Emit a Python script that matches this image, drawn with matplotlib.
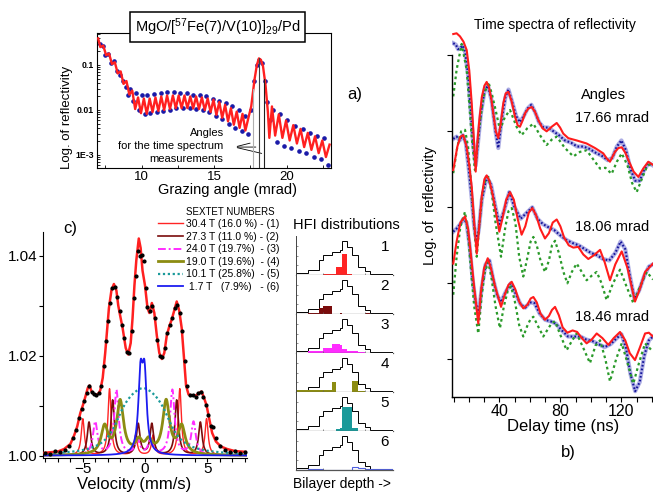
import numpy as np
import matplotlib
matplotlib.use("Agg")
import matplotlib.pyplot as plt
from matplotlib.patches import Rectangle

plt.rcParams['font.family'] = ['Liberation Sans', 'DejaVu Sans']
plt.rcParams['mathtext.fontset'] = 'custom'
plt.rcParams['mathtext.rm'] = 'Liberation Sans'
plt.rcParams['mathtext.it'] = 'Liberation Sans:italic'
plt.rcParams['mathtext.bf'] = 'Liberation Sans:bold'

# ---------------- a) X-ray reflectivity vs grazing angle ----------------
angle_fit = [7.00, 7.15, 7.35, 7.55, 7.75, 7.95, 8.15, 8.35, 8.55, 8.75, 8.95, 9.15, 9.35, 9.55,
             9.75, 9.95, 10.15, 10.35, 10.55, 10.75, 10.95, 11.15, 11.35, 11.55, 11.75, 11.95,
             12.15, 12.35, 12.55, 12.75, 12.95, 13.15, 13.35, 13.55, 13.75, 13.95, 14.15, 14.35,
             14.55, 14.75, 14.95, 15.15, 15.35, 15.55, 15.75, 15.95, 16.15, 16.35, 16.55, 16.75,
             16.95, 17.15, 17.38, 17.55, 17.78, 17.94, 18.08, 18.22, 18.36, 18.54, 18.70, 18.80,
             18.98, 19.20, 19.45, 19.70, 19.95, 20.20, 20.45, 20.70, 20.95, 21.20, 21.45, 21.70,
             21.95, 22.20, 22.45, 22.70, 22.95]
refl_fit = [0.39, 0.25, 0.27, 0.165, 0.18, 0.105, 0.115, 0.065, 0.072, 0.038, 0.044, 0.022, 0.027, 0.0105,
            0.019, 0.0085, 0.018, 0.0082, 0.018, 0.0090, 0.019, 0.0095, 0.020, 0.0100, 0.021, 0.0105,
            0.021, 0.0110, 0.021, 0.0110, 0.021, 0.0110, 0.020, 0.0108, 0.020, 0.0105, 0.019, 0.0100,
            0.018, 0.0090, 0.017, 0.0078, 0.015, 0.0067, 0.013, 0.0056, 0.011, 0.0047, 0.0092, 0.0040,
            0.0082, 0.0035, 0.0072, 0.012, 0.048, 0.10, 0.14, 0.13, 0.095, 0.035, 0.009, 0.0024,
            0.012, 0.0027, 0.0080, 0.0024, 0.0058, 0.0021, 0.0046, 0.0018, 0.0038, 0.0015, 0.0031, 0.0013,
            0.0026, 0.0011, 0.0021, 0.0009, 0.0017]

angle_data = [7.1, 7.3, 7.5, 7.7, 7.9, 8.1, 8.3, 8.5, 8.7, 8.9, 9.05, 9.2, 9.4, 9.6, 9.8, 10.0, 10.2,
              10.4, 10.6, 10.85, 11.05, 11.3, 11.5, 11.75, 11.95, 12.2, 12.4, 12.65, 12.85, 13.1, 13.3,
              13.55, 13.75, 14.0, 14.2, 14.45, 14.65, 14.9, 15.1, 15.35, 15.55, 15.8, 16.0, 16.25, 16.45,
              16.7, 16.9, 17.1, 17.3, 17.55, 17.75, 17.95, 18.1, 18.3, 18.5, 18.65, 18.85, 19.05, 19.3,
              19.55, 19.8, 20.05, 20.3, 20.6, 20.85, 21.1, 21.35, 21.6, 21.85, 22.1, 22.35, 22.6, 22.85]
refl_data = [0.30, 0.26, 0.17, 0.18, 0.11, 0.12, 0.075, 0.06, 0.045, 0.033, 0.022, 0.030, 0.016, 0.024,
             0.010, 0.021, 0.008, 0.022, 0.0085, 0.023, 0.009, 0.024, 0.0095, 0.025, 0.010, 0.025, 0.011,
             0.024, 0.011, 0.024, 0.011, 0.022, 0.0105, 0.022, 0.010, 0.020, 0.009, 0.018, 0.0075, 0.016,
             0.0062, 0.014, 0.0050, 0.012, 0.0040, 0.010, 0.0035, 0.0075, 0.0030, 0.010, 0.045, 0.10,
             0.13, 0.11, 0.045, 0.015, 0.006, 0.010, 0.0019, 0.0080, 0.0016, 0.0060, 0.0014, 0.0045,
             0.0012, 0.0038, 0.0011, 0.0031, 0.0009, 0.0027, 0.0008, 0.0024, 0.0006]

meas_angles = [17.66, 18.06, 18.46]
meas_tops = [0.03, 0.14, 0.05]
meas_colors = ['#b0b0b0', '#404040', '#202020']

# ---------------- b) time spectra (log units, offset per angle) ----------------
t_top_fit = [9.8, 12, 14.2, 16.5, 18.6, 20.3, 21.9, 23.3, 24.5, 25.6, 26.9, 28.5, 30.2, 31.7, 33.2, 34.8,
             36.0, 37.7, 39.3, 40.9, 42.6, 44.2, 45.9, 48, 50.3, 52, 53.5, 55.2, 56.9, 59, 61.2, 63.3,
             65.5, 68.3, 71.0, 74.3, 77.6, 79.8, 81.9, 85.2, 90.7, 97.2, 102.7, 108.1, 110.5, 112.5,
             115.8, 118, 120.2, 122.5, 124.6, 128, 131.1, 134.3, 137.6, 140.6]
r_top_fit = [4.28, 4.29, 4.25, 4.18, 4.07, 3.8, 3.37, 2.9, 2.47, 2.85, 3.15, 3.45, 3.6, 3.65, 3.58, 3.42,
             3.24, 3.0, 2.91, 3.1, 3.37, 3.5, 3.52, 3.4, 3.19, 3.08, 3.06, 3.14, 3.24, 3.3, 3.32, 3.26,
             3.15, 3.04, 3.0, 3.06, 3.11, 3.05, 2.97, 2.91, 2.88, 2.84, 2.78, 2.71, 2.64, 2.6,
             2.73, 2.78, 2.79, 2.72, 2.62, 2.47, 2.4, 2.51, 2.6, 2.56]
t_top_mag = [9.8, 12, 15.3, 18.6, 21.9, 24.0, 26.9, 29.5, 32.8, 35, 37.1, 40.4, 43.7, 47.0, 51.3, 54.6,
             58.3, 62.3, 66.6, 71.0, 74.3, 77.6, 83.0, 88.5, 92.9, 97.2, 102.7, 106, 109.5, 113.6, 117,
             120.2, 124, 127, 130, 133.5, 136.6, 140.6]
r_top_mag = [3.46, 3.81, 4.15, 3.81, 2.93, 2.49, 3.06, 3.45, 3.65, 3.5, 3.32, 3.02, 3.19, 3.28, 3.06, 2.95,
             3.04, 3.1, 2.95, 2.82, 2.89, 2.93, 2.78, 2.67, 2.73, 2.75, 2.6, 2.51, 2.52, 2.44, 2.6,
             2.71, 2.55, 2.32, 2.2, 2.38, 2.53, 2.6]
t_top_exp = [9.8, 11.5, 13, 14.5, 16, 17.5, 19.5, 21.5, 23, 24.5, 26, 28, 30.5, 32.5, 35, 37.5, 39.3, 41.5,
             44, 46, 48.5, 51, 53.5, 56, 58.5, 61, 63.5, 66, 69, 72, 75.5, 79, 83, 87, 91, 95, 99, 103,
             107, 111, 114, 117, 120, 123, 126, 129, 132, 135, 138, 140.7]
r_top_exp = [4.16, 4.14, 4.08, 4.1, 4.13, 4.05, 3.75, 3.2, 2.8, 2.55, 2.85, 3.25, 3.55, 3.6, 3.4, 3.0, 2.78,
             3.15, 3.45, 3.55, 3.38, 3.2, 3.12, 3.2, 3.3, 3.35, 3.25, 3.12, 3.05, 3.05, 3.0, 2.95, 2.88,
             2.85, 2.8, 2.8, 2.77, 2.72, 2.68, 2.62, 2.65, 2.8, 2.88, 2.75, 2.5, 2.35, 2.35, 2.5, 2.58, 2.55]

t_mid_fit = [9.8, 12.5, 14.5, 16.4, 18.5, 20.3, 21.9, 23.5, 25.2, 26.8, 28.5, 30.2, 31.7, 33.5, 35.5, 37.2,
             40.0, 42, 44.5, 47.0, 49.5, 52, 54.6, 57, 59.3, 61.6, 64, 66.8, 69.9, 72.5, 75, 77.6, 80,
             82.5, 85.5, 88.5, 91.7, 95, 98.3, 102, 106.0, 109, 112.5, 116, 120.2, 124, 128.9, 132,
             135.5, 140.7]
r_mid_fit = [2.49, 2.8, 2.93, 2.95, 2.8, 2.55, 2.27, 1.8, 1.39, 1.75, 2.15, 2.37, 2.42, 2.35, 2.18, 2.0,
             1.68, 1.85, 2.1, 2.2, 2.1, 1.85, 1.64, 1.75, 1.93, 1.99, 1.9, 1.72, 1.59, 1.66, 1.8, 1.84, 1.75,
             1.6, 1.5, 1.47, 1.48, 1.38, 1.32, 1.37, 1.44, 1.28, 1.04, 1.25, 1.42, 1.2, 0.76, 0.92,
             1.15, 1.26]
t_mid_mag = [9.8, 12.5, 15, 17.5, 19.5, 21.5, 23.5, 25.2, 27, 29, 31, 32.8, 35, 37.5, 41.1, 44, 46, 48.1,
             50.5, 53, 55.7, 58.5, 60.5, 62.3, 64.5, 67, 69.9, 72.5, 74.5, 76.5, 79, 82, 84.6, 87.5, 90.7,
             94, 97.2, 100.5, 103.8, 107, 110.3, 114.5, 119.1, 123.5, 127.8, 132, 136.6, 140.7]
r_mid_mag = [2.45, 2.8, 3.0, 3.02, 2.8, 2.3, 1.75, 1.35, 1.8, 2.2, 2.38, 2.4, 2.2, 1.8, 1.35, 1.75, 1.95, 1.99,
             1.8, 1.35, 1.09, 1.35, 1.55, 1.61, 1.5, 1.3, 1.15, 1.3, 1.5, 1.56, 1.4, 1.15, 1.0, 1.15, 1.26,
             1.15, 1.04, 1.1, 1.15, 1.0, 0.78, 1.0, 1.18, 0.95, 0.74, 0.95, 1.15, 1.05]
t_mid_exp = [9.8, 12, 14, 16, 18, 20, 22, 23.5, 25, 26.5, 28.5, 31.7, 34.5, 37.5, 40, 43, 46.5, 50, 54,
             57.5, 61.6, 65, 68.5, 72, 76, 80, 84, 88, 92, 96, 100, 104, 108, 112, 116, 119.5, 122.5,
             125.5, 128.5, 131.5, 135, 138, 140.7]
r_mid_exp = [2.9, 2.93, 2.88, 2.95, 2.85, 2.5, 2.1, 1.75, 1.55, 1.7, 2.1, 2.4, 2.3, 2.0, 1.78, 1.95, 2.2,
             2.0, 1.85, 1.92, 2.0, 1.85, 1.78, 1.74, 1.7, 1.63, 1.57, 1.53, 1.5, 1.45, 1.4, 1.37, 1.32,
             1.3, 1.4, 1.55, 1.45, 1.1, 0.8, 0.9, 1.1, 1.22, 1.25]

t_bot_fit = [9.8, 12, 14.5, 17.5, 19.5, 21.5, 23.5, 26.2, 28, 30, 32.4, 34.5, 37.2, 41.1, 43.5, 46, 48.1,
             50.5, 53, 55.7, 58.5, 60.5, 62.3, 64.5, 67, 69.9, 72.5, 74.5, 76.5, 79, 81.5, 84.6, 88, 91,
             94, 97.2, 100.5, 103.8, 107.5, 111.4, 115, 119.1, 122.5, 125.5, 128.9, 132, 135.5, 138,
             140.7]
r_bot_fit = [1.26, 1.55, 1.8, 1.88, 1.72, 1.35, 0.95, 0.47, 0.9, 1.2, 1.33, 1.2, 0.96, 0.69, 0.85, 0.98, 1.02,
             0.92, 0.76, 0.67, 0.72, 0.8, 0.82, 0.75, 0.6, 0.52, 0.57, 0.65, 0.69, 0.58, 0.42, 0.35, 0.38,
             0.36, 0.28, 0.21, 0.26, 0.34, 0.28, 0.19, 0.28, 0.36, 0.25, 0.08, -0.01, 0.15, 0.34, 0.35,
             0.3]
t_bot_mag = [9.8, 12, 14.5, 17.5, 19.5, 21.5, 23.5, 26.2, 28.5, 30.5, 32.8, 35, 37.5, 40.4, 43, 45.5, 47.6,
             50, 53, 55.7, 58.5, 60.5, 62.3, 65, 68.8, 72.5, 74.5, 76.5, 80, 84.1, 87.5, 90.7, 95, 99.4,
             103, 106, 109.5, 112.5, 116.5, 120.2, 124, 127.8, 131.5, 135.5, 140.7]
r_bot_mag = [0.85, 1.35, 1.75, 1.94, 1.65, 1.15, 0.7, 0.34, 0.85, 1.15, 1.28, 1.05, 0.7, 0.41, 0.7, 0.9, 0.96,
             0.78, 0.45, 0.3, 0.45, 0.53, 0.56, 0.45, 0.3, 0.42, 0.48, 0.5, 0.32, 0.12, 0.24, 0.34, 0.15,
             -0.05, 0.18, 0.25, 0.0, -0.29, 0.0, 0.21, -0.05, -0.32, -0.05, 0.21, 0.1]
t_bot_exp = [9.8, 12, 14.5, 16.5, 18.5, 20.5, 22.5, 24.5, 26.5, 28.5, 31, 33.5, 36, 38.5, 41, 44, 47.5, 51,
             54, 57, 60, 63, 66.5, 70, 73.5, 77, 81, 85, 89, 93, 97, 101, 105, 109, 113, 117, 120, 123,
             126, 129, 132, 135, 138, 140.7]
r_bot_exp = [1.68, 1.72, 1.78, 1.85, 1.8, 1.5, 1.05, 0.75, 0.6, 0.95, 1.25, 1.3, 1.05, 0.85, 0.75, 0.88, 1.0,
             0.85, 0.72, 0.68, 0.75, 0.74, 0.6, 0.52, 0.5, 0.47, 0.38, 0.3, 0.3, 0.3, 0.26, 0.24, 0.2,
             0.16, 0.2, 0.28, 0.33, 0.15, -0.2, -0.42, -0.3, 0.05, 0.25, 0.3]

angle_labels = ['17.66 mrad', '18.06 mrad', '18.46 mrad']

# ---------------- c) Mossbauer spectrum ----------------
vel_data = [-8.0, -7.6, -7.2, -6.8, -6.4, -6.1, -5.8, -5.55, -5.3, -5.1, -4.9, -4.7, -4.5, -4.3, -4.1, -3.9,
            -3.7, -3.5, -3.3, -3.15, -3.0, -2.85, -2.65, -2.45, -2.25, -2.05, -1.85, -1.65, -1.45, -1.25,
            -1.05, -0.9, -0.75, -0.6, -0.4, -0.25, -0.1, 0.05, 0.2, 0.4, 0.6, 0.8, 1.0, 1.2, 1.4, 1.6, 1.8,
            2.0, 2.2, 2.4, 2.6, 2.8, 3.0, 3.2, 3.4, 3.6, 3.85, 4.1, 4.3, 4.5, 4.7, 4.9, 5.1, 5.3, 5.5, 5.7,
            6.0, 6.4, 6.8, 7.2, 7.6, 8.0]
amp_data = [1.0006, 1.0003, 1.0010, 1.0007, 1.0012, 1.0020, 1.0035, 1.0052, 1.0075, 1.0093, 1.0110, 1.0125,
            1.0140, 1.0128, 1.0124, 1.0122, 1.0126, 1.0140, 1.0180, 1.0230, 1.0270, 1.0305, 1.0335, 1.0338,
            1.0318, 1.0290, 1.0262, 1.0235, 1.0208, 1.0205, 1.0250, 1.0315, 1.0360, 1.0410, 1.0400, 1.0402,
            1.0390, 1.0335, 1.0298, 1.0290, 1.0300, 1.0275, 1.0232, 1.0200, 1.0198, 1.0215, 1.0245, 1.0262,
            1.0275, 1.0295, 1.0302, 1.0285, 1.0250, 1.0190, 1.0140, 1.0122, 1.0121, 1.0118, 1.0125, 1.0127,
            1.0118, 1.0102, 1.0082, 1.0060, 1.0058, 1.0035, 1.0020, 1.0012, 1.0008, 1.0010, 1.0005, 1.0008]

vel_fit = [-8.2, -7.0, -6.5, -6.0, -5.7, -5.45, -5.2, -5.0, -4.8, -4.6, -4.45, -4.3, -4.1, -3.8, -3.6, -3.4,
           -3.2, -3.05, -2.9, -2.7, -2.5, -2.3, -2.15, -2.0, -1.8, -1.55, -1.35, -1.15, -1.0, -0.85, -0.7,
           -0.5, -0.35, -0.2, 0.0, 0.2, 0.35, 0.55, 0.75, 0.95, 1.15, 1.35, 1.55, 1.75, 1.95, 2.15, 2.35,
           2.55, 2.75, 2.95, 3.15, 3.3, 3.5, 3.8, 4.1, 4.35, 4.55, 4.75, 4.95, 5.15, 5.4, 5.7, 6.1, 6.6,
           7.2, 8.2]
amp_fit = [1.0005, 1.0008, 1.0013, 1.0023, 1.0040, 1.0058, 1.0085, 1.0100, 1.0117, 1.0135, 1.0140, 1.0128,
           1.0122, 1.0122, 1.0130, 1.0155, 1.0205, 1.0250, 1.0295, 1.0330, 1.0343, 1.0330, 1.0300, 1.0280,
           1.0255, 1.0215, 1.0202, 1.0225, 1.0275, 1.0340, 1.0390, 1.0434, 1.0415, 1.0370, 1.0340, 1.0295,
           1.0285, 1.0305, 1.0285, 1.0240, 1.0205, 1.0193, 1.0205, 1.0240, 1.0258, 1.0272, 1.0290, 1.0308,
           1.0290, 1.0255, 1.0190, 1.0140, 1.0122, 1.0120, 1.0120, 1.0125, 1.0128, 1.0115, 1.0100, 1.0075,
           1.0045, 1.0028, 1.0018, 1.0013, 1.0009, 1.0007]

# sextet lines: positions (mm/s), line depths, half widths
sextet_pos = [[-5.0, -2.85, -0.75, 0.65, 2.8, 4.95],
              [-4.5, -2.6, -0.55, 0.55, 2.55, 4.45],
              [-4.0, -2.3, -0.6, 0.45, 2.2, 3.9],
              [-3.25, -2.0, -0.5, 0.3, 1.7, 2.95],
              [-1.8, -1.1, -0.4, 0.1, 0.8, 1.5],
              [-0.40, -0.36, -0.32, -0.08, -0.04, 0.0]]
sextet_amp = [[0.0073, 0.0133, 0.0040, 0.0040, 0.0133, 0.0073],
              [0.0066, 0.0110, 0.0062, 0.0062, 0.0110, 0.0066],
              [0.0066, 0.0130, 0.0030, 0.0030, 0.0130, 0.0066],
              [0.0055, 0.0106, 0.0025, 0.0025, 0.0106, 0.0055],
              [0.0038, 0.0039, 0.0039, 0.0039, 0.0039, 0.0038],
              [0.0050, 0.0051, 0.0050, 0.0050, 0.0051, 0.0050]]
sextet_hw = [0.15, 0.17, 0.22, 0.33, 1.0, 0.2]
sextet_labels = ['30.4 T (16.0 %) - (1)', '27.3 T (11.0 %) - (2)', '24.0 T (19.7%)  - (3)',
                 '19.0 T (19.6%)  - (4)', '10.1 T (25.8%)  - (5)', ' 1.7 T   (7.9%)   - (6)']
sextet_colors = ['#ff2424', '#7a0c0c', '#ff2cff', '#8c8c12', '#1a9a9a', '#1c1cf0']
sextet_styles = ['-', '-', (0, (4, 1.5, 1, 1.5)), '-', (0, (1, 1.2)), '-']
sextet_lw = [1.0, 1.2, 1.4, 2.0, 1.6, 1.3]

# ---------------- HFI distributions along the bilayer ----------------
depth_edges = [0, 12.7, 24, 28, 36.8, 41, 45.4, 47, 53, 57.4, 64, 71, 76, 100]
hfi_total = [0.04, 0.12, 0.38, 0.52, 0.58, 0.58, 0.64, 0.86, 0.72, 0.52, 0.20, 0.10, 0.03]
hfi_parts = [[0, 0, 0, 0.02, 0.02, 0.20, 0.20, 0.53, 0.02, 0, 0, 0, 0],
             [0, 0.02, 0.15, 0.20, 0, 0, 0.02, 0, 0, 0, 0, 0.03, 0],
             [0, 0.04, 0.06, 0.14, 0.22, 0.23, 0.20, 0.10, 0.05, 0.05, 0.03, 0, 0],
             [0.06, 0.05, 0.05, 0.05, 0.26, 0, 0, 0, 0, 0.29, 0.03, 0, 0],
             [0, 0, 0, 0, 0, 0.05, 0.07, 0.62, 0.62, 0.07, 0, 0, 0],
             [0, 0.03, 0.03, 0, 0, 0, 0, 0, 0, 0.07, 0.05, 0.02, 0.02]]

W, H = 653, 492


def box(left, top, right, bottom):
    return [left / W, 1 - bottom / H, (right - left) / W, (bottom - top) / H]


def ftext(x, y, s, **kw):
    fig.text(x / W, 1 - y / H, s, **kw)


fig = plt.figure(figsize=(W / 100, H / 100), dpi=100)

# ---- panel a ----
ax_a = fig.add_axes(box(97, 33, 331, 168))
ax_a.set_yscale('log')
ax_a.plot(angle_data, refl_data, 'o', ms=2.3, color='#1a1aa8', zorder=2)
ax_a.plot(angle_fit, refl_fit, '-', lw=1.7, color='#ff2020', zorder=3)
for a, top, c in zip(meas_angles, meas_tops, meas_colors):
    ax_a.plot([a, a], [5e-4, top], color=c, lw=0.8, zorder=4)
ax_a.set_xlim(6.92, 23.05)
ax_a.set_ylim(5.14e-4, 0.514)
ax_a.set_xticks([10, 15, 20])
ax_a.set_xticks([7.5, 12.5, 17.5, 22.5], minor=True)
ax_a.set_yticks([0.1, 0.01, 0.001])
ax_a.set_yticklabels(['0.1', '0.01', '1E-3'], fontsize=6.3, fontweight='bold')
ax_a.tick_params(axis='both', which='both', direction='in', length=2.5, width=0.6)
ax_a.tick_params(axis='x', labelsize=9.5, pad=2)
ax_a.tick_params(axis='y', pad=2)
for s in ax_a.spines.values():
    s.set_linewidth(0.8)
ax_a.text(15.65, 0.0016, 'Angles\nfor the time spectrum\nmeasurements', ha='right', va='center',
          fontsize=8, linespacing=1.35)
for a, lvl in zip(meas_angles, [0.0019, 0.0015, 0.00105]):
    ax_a.annotate('', xy=(a, lvl), xytext=(16.4, 0.0015),
                  arrowprops=dict(arrowstyle='-', lw=0.6, color='black'))
fig.add_artist(Rectangle((130 / W, 1 - 42 / H), 175 / W, 30 / H, transform=fig.transFigure,
                         facecolor='white', edgecolor='black', lw=1.1, zorder=5))
ftext(217.5, 27, 'MgO/[$^{57}$Fe(7)/V(10)]$_{29}$/Pd', ha='center', va='center', fontsize=10.5, zorder=6)
ftext(67, 117, 'Log. of reflectivity', rotation=90, ha='center', va='center', fontsize=9.5)
ftext(227, 190, 'Grazing angle (mrad)', ha='center', va='center', fontsize=10.5)
ftext(355, 95, 'a)', ha='center', va='center', fontsize=12)

# ---- panel b ----
ax_b = fig.add_axes(box(451.7, 20, 653, 396.7))
series = [(t_top_exp, r_top_exp, t_top_mag, r_top_mag, t_top_fit, r_top_fit),
          (t_mid_exp, r_mid_exp, t_mid_mag, r_mid_mag, t_mid_fit, r_mid_fit),
          (t_bot_exp, r_bot_exp, t_bot_mag, r_bot_mag, t_bot_fit, r_bot_fit)]
for te, re, tm, rm, tf, rf in series:
    ax_b.plot(te, re, '-', lw=3.0, color='#3434bc', alpha=0.4, zorder=1)
    ax_b.plot(te, re, '-', lw=1.5, color='#14149a', dashes=(0.8, 1.0), zorder=1)
    ax_b.plot(tm, rm, '-', lw=1.6, color='#2a9a2a', dashes=(1.2, 1.4), zorder=2)
    ax_b.plot(tf, rf, '-', lw=1.5, color='#ff1c1c', zorder=3)
ax_b.set_xlim(8.78, 140.7)
ax_b.set_ylim(-0.492, 4.465)
ax_b.spines['top'].set_visible(False)
ax_b.spines['right'].set_visible(False)
ax_b.spines['left'].set_bounds(-0.492, 4.0)
ax_b.spines['left'].set_linewidth(1.0)
ax_b.spines['bottom'].set_linewidth(1.0)
ax_b.set_yticks([0, 1, 2, 3, 4])
ax_b.set_yticklabels([])
ax_b.set_xticks([40, 80, 120])
ax_b.set_xticks(np.arange(10, 141, 10), minor=True)
ax_b.tick_params(axis='both', which='both', direction='out', length=3.5, width=0.8)
ax_b.tick_params(axis='x', labelsize=11.5, pad=1.5)
ftext(555, 25, 'Time spectra of reflectivity', ha='center', va='center', fontsize=10)
ftext(430, 206, 'Log. of  reflectivity', rotation=90, ha='center', va='center', fontsize=10.5)
ftext(563, 427, 'Delay time (ns)', ha='center', va='center', fontsize=12)
ftext(568, 452, 'b)', ha='center', va='center', fontsize=12)
ftext(603, 95, 'Angles', ha='center', va='center', fontsize=10.5)
for lab, y in zip(angle_labels, [118, 227, 317]):
    ftext(612, y, lab, ha='center', va='center', fontsize=10.5)

# ---- panel c ----
ax_c = fig.add_axes(box(43, 232, 247, 458))
vel = np.linspace(-8.2, 8.2, 900)
handles = []
for pos, amp, hw, c, ls, lw in zip(sextet_pos, sextet_amp, sextet_hw, sextet_colors, sextet_styles, sextet_lw):
    line = np.ones_like(vel)
    for p, a in zip(pos, amp):
        line += a / (1 + ((vel - p) / hw) ** 2)
    h, = ax_c.plot(vel, line, color=c, ls=ls, lw=lw, zorder=2)
    handles.append(h)
ax_c.plot(vel_fit, amp_fit, '-', color='#ff2020', lw=1.8, zorder=3)
ax_c.plot(vel_data, amp_data, 'o', ms=2.0, color='black', zorder=4)
ax_c.set_xlim(-8.2, 8.2)
ax_c.set_ylim(0.9995, 1.0447)
ax_c.set_xticks([-5, 0, 5])
ax_c.set_xticks(np.arange(-8, 9, 1), minor=True)
ax_c.set_yticks([1.00, 1.02, 1.04])
ax_c.set_yticklabels(['1.00', '1.02', '1.04'])
ax_c.set_yticks([1.01, 1.03], minor=True)
ax_c.spines['top'].set_visible(False)
ax_c.spines['right'].set_visible(False)
ax_c.tick_params(axis='both', which='both', direction='out', length=3, width=0.8)
ax_c.tick_params(axis='y', labelsize=11, pad=1)
ax_c.tick_params(axis='x', labelsize=11, pad=0)
ftext(134, 485, 'Velocity (mm/s)', ha='center', va='center', fontsize=12)
ftext(70, 228, 'c)', ha='center', va='center', fontsize=12)
ftext(230, 212, 'SEXTET NUMBERS', ha='center', va='center', fontsize=7)
fig.legend(handles, sextet_labels, loc='upper left', bbox_to_anchor=(158 / W, 1 - 219 / H),
           frameon=False, fontsize=7.5, handlelength=2.4, handletextpad=0.3, labelspacing=0.25,
           borderpad=0, borderaxespad=0)

# ---- HFI distributions ----
ftext(293, 225, 'HFI distributions', ha='left', va='center', fontsize=10.5)
ftext(293, 484, 'Bilayer depth ->', ha='left', va='center', fontsize=10)
for k, (part, c) in enumerate(zip(hfi_parts, sextet_colors)):
    top = 236 + 39 * k
    ax_h = fig.add_axes(box(296, top, 393, top + 39))
    ax_h.stairs(hfi_total, depth_edges, color='black', lw=0.7)
    if k == 5:
        ax_h.stairs(part, depth_edges, color='#5060e0', lw=0.8)
    else:
        ax_h.stairs(part, depth_edges, fill=True, color=c)
    ax_h.set_xlim(0, 100)
    ax_h.set_ylim(0, 1.0)
    ax_h.spines['top'].set_visible(False)
    ax_h.spines['right'].set_visible(False)
    ax_h.spines['left'].set_color('#444444')
    ax_h.spines['bottom'].set_color('#555555')
    ax_h.spines['left'].set_linewidth(0.7)
    ax_h.spines['bottom'].set_linewidth(0.9)
    ax_h.set_xticks([28, 71])
    ax_h.set_yticks([0.25, 0.5, 0.75])
    ax_h.set_xticklabels([])
    ax_h.set_yticklabels([])
    ax_h.tick_params(axis='both', direction='in', length=1.5, width=0.5, colors='#666666')
    ftext(385, top + 11, str(k + 1), ha='center', va='center', fontsize=11)

fig.savefig('out.png', dpi=100)
